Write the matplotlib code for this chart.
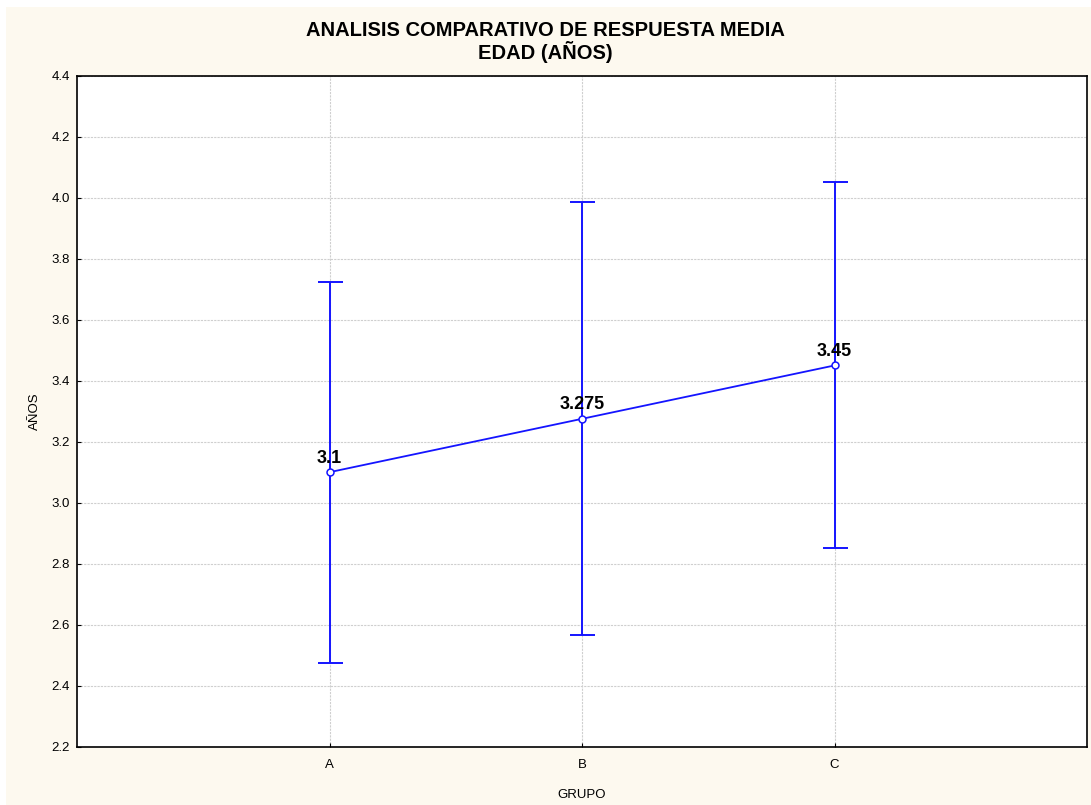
import matplotlib
matplotlib.use("Agg")
import matplotlib.pyplot as plt
from matplotlib.patches import Rectangle

# Mean response by group with interval bounds
grupos = ["A", "B", "C"]
medias = [3.1, 3.275, 3.45]
limite_inf = [2.475, 2.565, 2.85]
limite_sup = [3.725, 3.985, 4.05]
yticks = [2.2, 2.4, 2.6, 2.8, 3.0, 3.2, 3.4, 3.6, 3.8, 4.0, 4.2, 4.4]

plt.rcParams["font.family"] = ["Liberation Sans", "DejaVu Sans"]

fig = plt.figure(figsize=(10.91, 8.05), dpi=100, facecolor="white")
fig.patches.append(Rectangle((6 / 1091, 0), 1, (805 - 7) / 805,
                             transform=fig.transFigure, facecolor="#fdf9ef",
                             edgecolor="none", zorder=-10))

ax = fig.add_axes([77 / 1091, 1 - 746.7 / 805, (1087 - 77) / 1091, (746.7 - 75.7) / 805])
ax.set_facecolor("white")

x = list(range(len(grupos)))
err_low = [m - lo for m, lo in zip(medias, limite_inf)]
err_high = [hi - m for m, hi in zip(medias, limite_sup)]

azul = "#1414ff"
ax.errorbar(x, medias, yerr=[err_low, err_high], fmt="none", ecolor=azul,
            elinewidth=1.4, capsize=9, capthick=1.4, zorder=3)
ax.plot(x, medias, color=azul, lw=1.3, marker="o", markersize=5,
        markerfacecolor="white", markeredgecolor=azul, markeredgewidth=1.1, zorder=4)

for xi, m in zip(x, medias):
    ax.annotate(f"{m:g}", (xi, m), xytext=(0, 4), textcoords="offset points",
                ha="center", va="bottom", fontsize=13, fontweight="bold", color="black", zorder=5)

ax.set_xlim(-1, 3)
ax.set_ylim(2.2, 4.4)
ax.set_xticks(x)
ax.set_xticklabels(grupos, fontsize=9.5)
ax.set_yticks(yticks)
ax.set_yticklabels([f"{v:.1f}" for v in yticks], fontsize=9.5)
ax.tick_params(axis="x", direction="in", length=3, width=0.8, pad=9)
ax.tick_params(axis="y", direction="in", length=3, width=0.8, pad=5)

ax.grid(True, color="#cfcfcf", linestyle=(0, (2, 1)), linewidth=0.8, zorder=0)
ax.set_axisbelow(True)
for sp in ax.spines.values():
    sp.set_linewidth(1.2)
    sp.set_color("black")

ax.set_xlabel("GRUPO", fontsize=9.5, labelpad=13)
ax.set_ylabel("AÑOS", fontsize=9.5, labelpad=8)

fig.text(0.5, 1 - 30 / 805, "ANALISIS COMPARATIVO DE RESPUESTA MEDIA", ha="center", va="center",
         fontsize=14.5, fontweight="bold")
fig.text(0.5, 1 - 52 / 805, "EDAD (AÑOS)", ha="center", va="center",
         fontsize=14.5, fontweight="bold")

fig.savefig("out.png", dpi=100, facecolor=fig.get_facecolor())
